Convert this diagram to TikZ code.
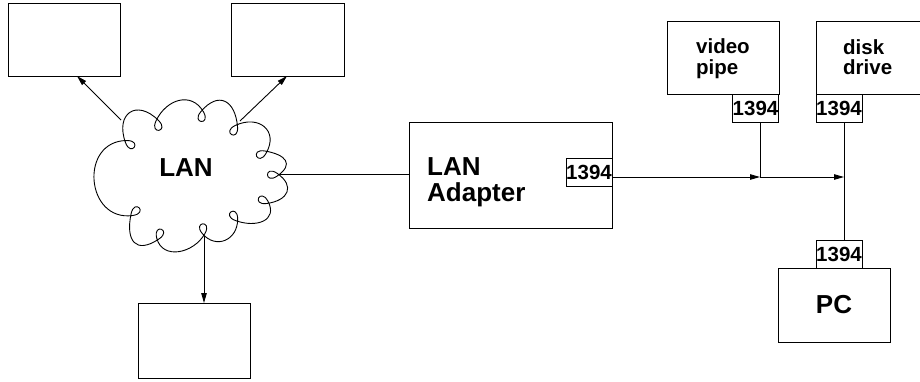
\documentclass[tikz,border=0pt]{standalone}
\usepackage{fontspec}
\setmainfont{Liberation Sans}
\usetikzlibrary{calc,arrows.meta}
\begin{document}
\begin{tikzpicture}[x=1pt,y=-1pt,
  ln/.style={line width=0.9pt, line join=round},
  arr/.style={ln,-{Triangle[length=10pt,width=5.5pt]}},
  boxn/.style={draw, line width=0.9pt, inner sep=0pt, outer sep=0pt},
  port/.style={boxn, minimum width=46pt, minimum height=28pt, font=\fontsize{20.5}{20.5}\selectfont\bfseries},
  big/.style={inner sep=0pt, font=\fontsize{26}{26}\selectfont\bfseries},
  mid/.style={inner sep=0pt, font=\fontsize{20.5}{21}\selectfont\bfseries}]
\useasboundingbox (0,0) rectangle (920,381);
\clip (0,0) rectangle (920,381);
% boxes
\node[boxn, minimum width=112pt, minimum height=73pt] (tl) at (64,39.5) {};
\node[boxn, minimum width=113pt, minimum height=73pt] (tm) at (287.5,39.5) {};
\node[boxn, minimum width=112pt, minimum height=75pt] (bb) at (194,340.5) {};
\node[boxn, minimum width=203pt, minimum height=106pt] (ad) at (510.5,175) {};
\node[port] (aport) at (589,172) {1394};
\node[boxn, minimum width=112pt, minimum height=73pt] (vp) at (723,57.5) {};
\node[port] (vport) at (755.5,108) {1394};
\node[boxn, minimum width=114pt, minimum height=73pt] (dd) at (873,57.5) {};
\node[port] (dport) at (839,108) {1394};
\node[boxn, minimum width=112pt, minimum height=74pt] (pc) at (834,305) {};
\node[port] (pport) at (839,254) {1394};
% texts
\node[big, anchor=base] (lantxt) at (186,176) {LAN};
\node[big, anchor=base west] (ad1) at (427,175) {LAN};
\node[big, anchor=base west] (ad2) at (427,201) {Adapter};
\node[mid, anchor=base west] (vp1) at (696,53) {video};
\node[mid, anchor=base west] (vp2) at (696,74) {pipe};
\node[mid, anchor=base west] (dd1) at (843,54) {disk};
\node[mid, anchor=base west] (dd2) at (843,74) {drive};
\node[big, anchor=base] (pctxt) at (834,313) {PC};
% cloud: crossing point, inward normal, incoming and outgoing bump lengths
\foreach \i/\x/\y/\nn/\lin/\lout in {
  1/124/140/35/48/31,
  2/156.8/118/80/31/24,
  3/202.4/109/95/24/27,
  4/237.8/123.7/120/27/26,
  5/268/151/155/26/21,
  6/280/174.7/180/21/22,
  7/269.8/203.6/207/22/22,
  8/238.2/222.1/235/22/21,
  9/204/236.3/264/21/23,
  10/156.9/241/291/23/28,
  11/130/216.4/317/28/48}{
  \coordinate (J\i) at (\x,\y);
  \coordinate (A\i) at ($(J\i)+(\nn-25:3)$);
  \coordinate (D\i) at ($(J\i)+(\nn+25:3)$);
  \coordinate (LA\i) at ($(A\i)+(\nn-35:16)$);
  \coordinate (LD\i) at ($(D\i)+(\nn+35:16)$);
  \coordinate (BO\i) at ($(D\i)+(\nn-145:\lout)$);
  \coordinate (BI\i) at ($(A\i)+(\nn+145:\lin)$);
}
\draw[ln] (D1)
  .. controls (BO1) and (BI2) .. (A2) .. controls (LA2) and (LD2) .. (D2)
  .. controls (BO2) and (BI3) .. (A3) .. controls (LA3) and (LD3) .. (D3)
  .. controls (BO3) and (BI4) .. (A4) .. controls (LA4) and (LD4) .. (D4)
  .. controls (BO4) and (BI5) .. (A5) .. controls (LA5) and (LD5) .. (D5)
  .. controls (BO5) and (BI6) .. (A6) .. controls (LA6) and (LD6) .. (D6)
  .. controls (BO6) and (BI7) .. (A7) .. controls (LA7) and (LD7) .. (D7)
  .. controls (BO7) and (BI8) .. (A8) .. controls (LA8) and (LD8) .. (D8)
  .. controls (BO8) and (BI9) .. (A9) .. controls (LA9) and (LD9) .. (D9)
  .. controls (BO9) and (BI10) .. (A10) .. controls (LA10) and (LD10) .. (D10)
  .. controls (BO10) and (BI11) .. (A11) .. controls (LA11) and (LD11) .. (D11)
  .. controls (BO11) and (BI1) .. (A1) .. controls (LA1) and (LD1) .. (D1) -- cycle;
% attach points
\coordinate (cTL) at (121,120);
\coordinate (cTR) at (240,121);
\coordinate (jv) at (760,177);
\coordinate (jd) at (844,177);
% connectors
\draw[arr] (cTL) -- ($(tl.south)+(13,0)$);
\draw[arr] (cTR) -- ($(tm.south)+(-0.5,0)$);
\draw[arr] (J9) -- (bb.north -| J9);
\draw[ln] (J6) -- (ad.west |- J6);
\draw[arr] (aport.east |- jv) -- (jv);
\draw[ln] (vport.south -| jv) -- (jv);
\draw[arr] (jv) -- (jd);
\draw[ln] (dport.south -| jd) -- (pport.north -| jd);
\end{tikzpicture}
\end{document}
